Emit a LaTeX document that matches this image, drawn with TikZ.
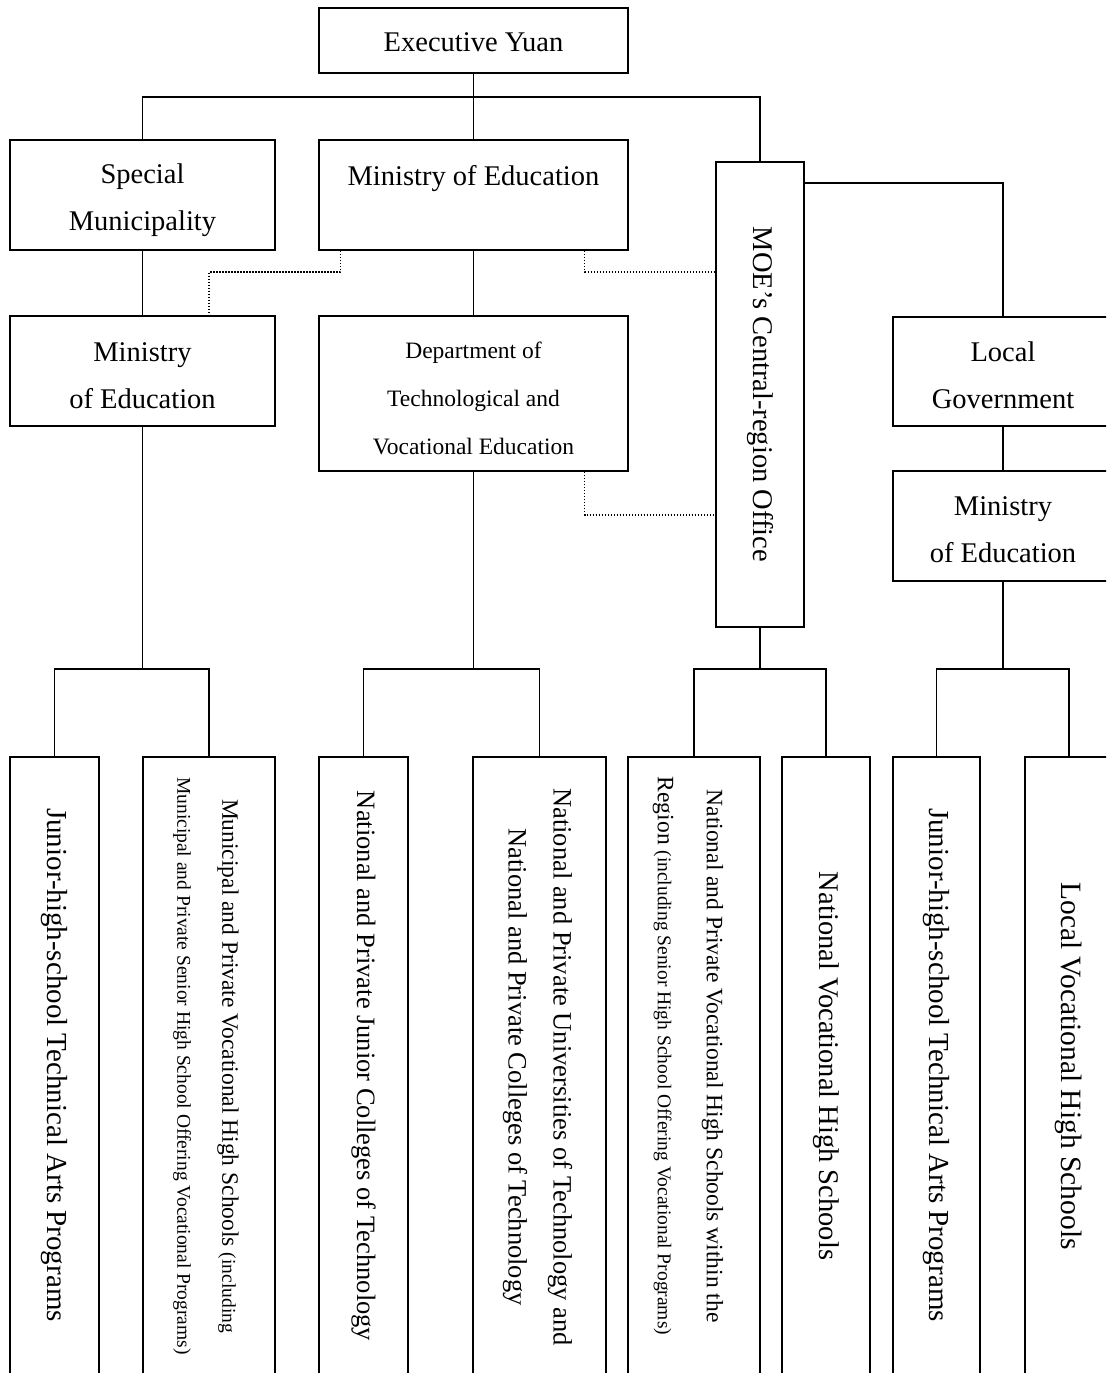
\documentclass[tikz,border=0pt]{standalone}
\usepackage{fontspec}
\setmainfont{Liberation Serif}
\usetikzlibrary{calc}
\newcommand\smallfs{\fontsize{19.5}{46}\selectfont}
\begin{document}
\begin{tikzpicture}[x=1pt,y=-1pt,
  box/.style={draw,line width=1.5pt,inner sep=0pt},
  conn/.style={line width=1.5pt},
  dotconn/.style={line width=1.3pt,dash pattern=on 1.3pt off 1.7pt},
  toptxt/.style={font=\fontsize{28.5}{47}\selectfont,align=center,inner sep=0pt},
  midtxt/.style={font=\fontsize{23.5}{48}\selectfont,align=center,inner sep=0pt},
  vtxt/.style={rotate=-90,align=center,inner sep=0pt}]
\useasboundingbox (0,0) rectangle (1106,1373);
\clip (0,0) rectangle (1106,1373);
% upper boxes
\node[box,minimum width=309,minimum height=65] (ey) at (473.5,40.5) {};
\node[toptxt] (eyt) at ($(ey.center)+(0,2)$) {Executive Yuan};
\node[box,minimum width=265,minimum height=110] (sm) at (142.5,195) {};
\node[toptxt] (smt) at ($(sm.center)+(0,5)$) {Special\\Municipality};
\node[box,minimum width=309,minimum height=110] (moe) at (473.5,195) {};
\node[toptxt] (moet) at (473.5,179) {Ministry of Education};
\node[box,minimum width=265,minimum height=110] (me1) at (142.5,371) {};
\node[toptxt] (me1t) at ($(me1.center)+(0,5)$) {Ministry\\of Education};
\node[box,minimum width=309,minimum height=155] (dept) at (473.5,393.5) {};
\node[midtxt] (deptt) at ($(dept.center)+(0,5)$) {Department of\\Technological and\\Vocational Education};
\node[box,minimum width=88,minimum height=465] (cro) at (760,394.5) {};
\node[vtxt,toptxt] (crot) at (cro.center) {MOE’s Central-region Office};
\node[box,minimum width=220,minimum height=109] (lg) at (1003,371.5) {};
\node[toptxt] (lgt) at ($(lg.center)+(0,4)$) {Local\\Government};
\node[box,minimum width=220,minimum height=110] (me2) at (1003,526) {};
\node[toptxt] (me2t) at ($(me2.center)+(0,4)$) {Ministry\\of Education};
% bottom boxes
\node[box,minimum width=89,minimum height=636] (b1) at (54.5,1075) {};
\node[box,minimum width=132,minimum height=636] (b2) at (209,1075) {};
\node[box,minimum width=89,minimum height=636] (b3) at (363.5,1075) {};
\node[box,minimum width=133,minimum height=636] (b4) at (539.5,1075) {};
\node[box,minimum width=132,minimum height=636] (b5) at (694,1075) {};
\node[box,minimum width=88,minimum height=636] (b6) at (826,1075) {};
\node[box,minimum width=87,minimum height=636] (b7) at (936.5,1075) {};
\node[box,minimum width=88,minimum height=636] (b8) at (1069,1075) {};
% bottom texts
\node[vtxt,font=\fontsize{29}{45}\selectfont] (t1) at ($(b1.center)+(0,-10)$) {Junior-high-school Technical Arts Programs};
\node[vtxt,font=\fontsize{23.5}{45}\selectfont] (t2) at ($(b2.center)+(-3,-9)$) {Municipal and Private Vocational High Schools {\smallfs(including}\\{\smallfs Municipal and Private Senior High School Offering Vocational Programs)}};
\node[vtxt,font=\fontsize{26.5}{45}\selectfont] (t3) at ($(b3.center)+(0,-9)$) {National and Private Junior Colleges of Technology};
\node[vtxt,font=\fontsize{26.5}{45}\selectfont] (t4) at ($(b4.center)+(-2,-8)$) {National and Private Universities of Technology and\\National and Private Colleges of Technology};
\node[vtxt,font=\fontsize{23.5}{49}\selectfont] (t5) at ($(b5.center)+(-6,-19)$) {National and Private Vocational High Schools within the\\Region {\smallfs(including Senior High School Offering Vocational Programs)}};
\node[vtxt,font=\fontsize{28.5}{45}\selectfont] (t6) at ($(b6.center)+(0,-9)$) {National Vocational High Schools};
\node[vtxt,font=\fontsize{29}{45}\selectfont] (t7) at ($(b7.center)+(0,-10)$) {Junior-high-school Technical Arts Programs};
\node[vtxt,font=\fontsize{29.5}{45}\selectfont] (t8) at ($(b8.center)+(0,-9)$) {Local Vocational High Schools};
% solid connectors
\coordinate (bus) at (473.5,97);
\draw[conn] (ey.south) -- (moe.north);
\draw[conn] (sm.north) |- (bus) -| (cro.north);
\coordinate (lgturn) at (1003,183);
\draw[conn] (cro.east |- lgturn) -| (lg.north);
\draw[conn] (sm.south) -- (me1.north);
\draw[conn] (moe.south) -- (dept.north);
\draw[conn] (lg.south) -- (me2.north);
% dotted connectors
\coordinate (dA) at (209,272);
\coordinate (dB) at (584,515);
\draw[dotconn] ($(moe.south west)+(22,0)$) |- (dA) -- (dA |- me1.north);
\draw[dotconn] ($(moe.south east)+(-44,0)$) |- (cro.west |- dA);
\draw[dotconn] ($(dept.south east)+(-44,0)$) |- (cro.west |- dB);
% branches
\coordinate (j1) at (142.5,669);
\coordinate (j2) at (473.5,669);
\coordinate (j3) at (760,669);
\coordinate (j4) at (1003,669);
\draw[conn] (me1.south) -- (j1);
\draw[conn] (b1.north) |- (j1) -| (b2.north);
\draw[conn] (dept.south) -- (j2);
\draw[conn] (b3.north) |- (j2) -| (b4.north);
\draw[conn] (cro.south) -- (j3);
\draw[conn] (b5.north) |- (j3) -| (b6.north);
\draw[conn] (me2.south) -- (j4);
\draw[conn] (b7.north) |- (j4) -| (b8.north);
\end{tikzpicture}
\end{document}
